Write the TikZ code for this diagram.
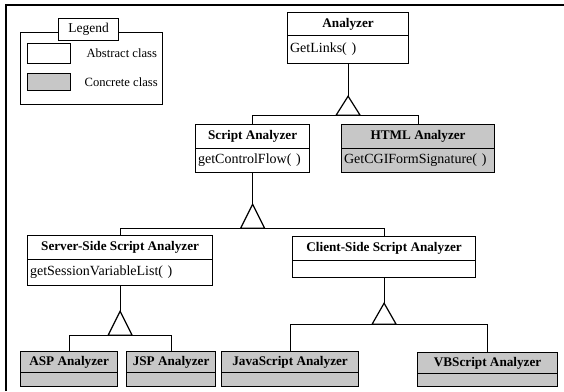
\documentclass[tikz,border=0pt]{standalone}
\usepackage{fontspec}
\setmainfont{Liberation Serif}
\usetikzlibrary{calc}
\begin{document}
\begin{tikzpicture}[x=1pt,y=-1pt,line width=1.2pt,
  hdr/.style={draw,inner sep=0pt,anchor=north west,font=\fontsize{13.2}{15}\selectfont\bfseries},
  bdy/.style={draw,inner xsep=2.5pt,inner ysep=0pt,anchor=north west,align=left,font=\fontsize{14}{16}\selectfont},
  concrete/.style={fill=black!22},
  lgtext/.style={anchor=west,inner sep=0pt,font=\fontsize{12.6}{14}\selectfont}]
\useasboundingbox (0,0) rectangle (564,391);

% frame edges
\draw (6,391) -- (6,5) -- (564,5);

% legend
\node[draw,minimum width=142pt,minimum height=72pt,anchor=north west,inner sep=0pt] (legend) at (20,32) {};
\node[draw,fill=white,minimum width=60pt,minimum height=22pt,inner sep=0pt,anchor=north west,font=\fontsize{13.5}{15}\selectfont] (legendtitle) at (58,18) {Legend};
\node[draw,minimum width=43pt,minimum height=20pt,inner sep=0pt,anchor=north west] (absbox) at (27,43) {};
\node[lgtext] (abstxt) at (86,53) {Abstract class};
\node[draw,concrete,minimum width=43pt,minimum height=17pt,inner sep=0pt,anchor=north west] (conbox) at (27,73) {};
\node[lgtext] (contxt) at (84,82) {Concrete class};

% Analyzer
\node[hdr,minimum width=121pt,minimum height=23pt] (an) at (287,12) {Analyzer};
\node[bdy,text width=116pt,minimum height=28pt] (an-m) at (287,35) {GetLinks( )};

% Script Analyzer / HTML Analyzer
\node[hdr,minimum width=114pt,minimum height=24pt] (sa) at (195,124) {Script Analyzer};
\node[bdy,text width=109pt,minimum height=24pt] (sa-m) at (195,148) {getControlFlow( )};
\node[hdr,concrete,minimum width=153pt,minimum height=24pt] (html) at (341,124) {HTML Analyzer};
\node[bdy,concrete,text width=148pt,minimum height=24pt] (html-m) at (341,148) {GetCGIFormSignature( )};

% Server-side / Client-side
\node[hdr,minimum width=185pt,minimum height=24pt] (ss) at (27,235) {Server-Side Script Analyzer};
\node[bdy,text width=180pt,minimum height=26pt] (ss-m) at (27,259) {getSessionVariableList( )};
\node[hdr,minimum width=183pt,minimum height=24pt] (cs) at (292,236) {Client-Side Script Analyzer};
\node[bdy,text width=178pt,minimum height=17pt] (cs-m) at (292,260) {};

% concrete leaves
\node[hdr,concrete,minimum width=97pt,minimum height=21pt] (asp) at (20,351) {ASP Analyzer};
\node[bdy,concrete,text width=92pt,minimum height=14pt] (asp-m) at (20,372) {};
\node[hdr,concrete,minimum width=89pt,minimum height=21pt] (jsp) at (126,351) {JSP Analyzer};
\node[bdy,concrete,text width=84pt,minimum height=14pt] (jsp-m) at (126,372) {};
\node[hdr,concrete,minimum width=137pt,minimum height=21pt] (js) at (221,351) {JavaScript Analyzer};
\node[bdy,concrete,text width=132pt,minimum height=14pt] (js-m) at (221,372) {};
\node[hdr,concrete,minimum width=140pt,minimum height=21pt] (vb) at (417,352) {VBScript Analyzer};
\node[bdy,concrete,text width=135pt,minimum height=13pt] (vb-m) at (417,373) {};

% generalization apexes
\coordinate (t1) at ($(an-m.south)+(0,32)$);
\coordinate (t2) at ($(sa-m.south)+(0,31)$);
\coordinate (t3) at ($(ss-m.south)+(0,25)$);
\coordinate (t4) at ($(cs-m.south)+(0,25)$);

\foreach \p/\t/\h in {an-m/t1/19, sa-m/t2/24, ss-m/t3/24, cs-m/t4/21}{
  \draw (\p.south) -- (\t);
  \draw (\t) -- ++(-12,\h) -- ++(24,0) -- cycle;
}
\draw (sa.north) |- ($(t1)+(0,19)$) -| (html.north);
\draw (ss.north) |- ($(t2)+(0,24)$) -| (cs.north);
\draw (asp.north) |- ($(t3)+(0,24)$) -| (jsp.north);
\draw (js.north) |- ($(t4)+(0,21)$) -| (vb.north);
\end{tikzpicture}
\end{document}
